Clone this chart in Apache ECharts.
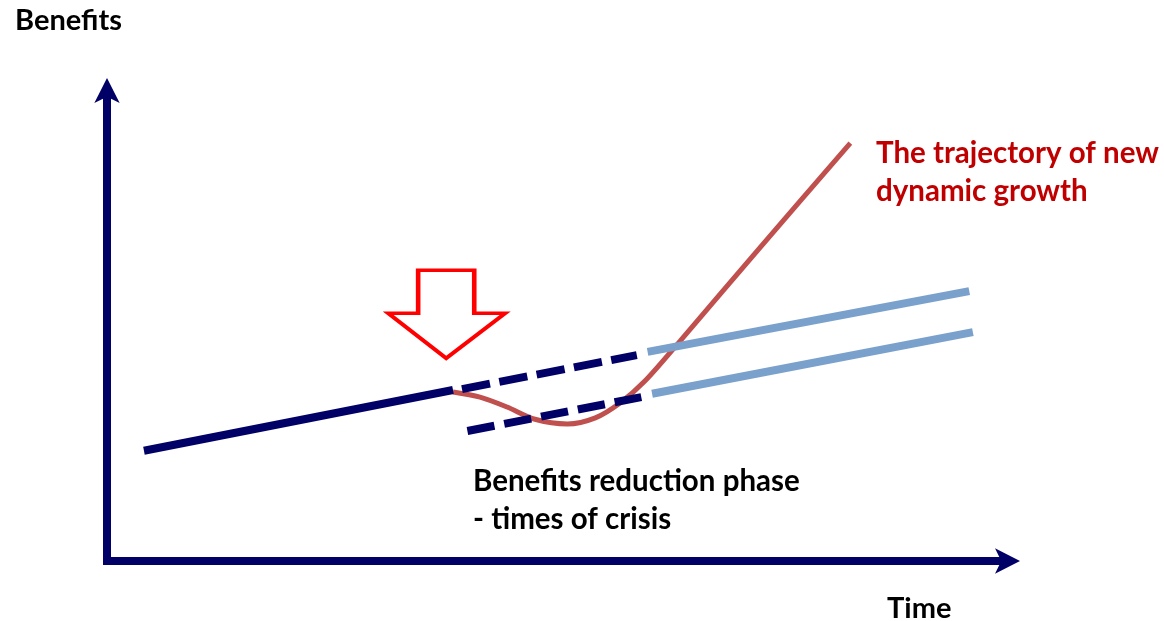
<!DOCTYPE html>
<html>
<head>
<meta charset="utf-8">
<script src="https://cdn.jsdelivr.net/npm/echarts@6/dist/echarts.min.js"></script>
<style>
html,body{margin:0;padding:0;background:#fff;}
#chart{width:1164px;height:621px;}
</style>
</head>
<body>
<div id="chart"></div>
<script>
// Conceptual values (time 0..100, benefits 0..100)
const trendBefore = [[4.1, 23.4], [38.4, 36.3]];
const trendUpperDashed = [[39.4, 36.5], [58.8, 43.7]];
const trendUpperNew = [[60.0, 44.4], [95.7, 57.3]];
const trendLowerDashed = [[40.0, 27.6], [59.3, 34.8]];
const trendLowerNew = [[60.5, 35.5], [96.1, 48.6]];
const newGrowth = [
  [38.4, 35.9], [41.4, 34.8], [44.4, 32.7], [47.5, 30.1], [51.1, 29.1],
  [54.2, 30.4], [56.9, 33.5], [59.7, 38.2], [63.6, 46.7], [72.5, 66.6],
  [82.5, 88.7]
];
const crisisMarker = [[37.7, 52.4]];

const axisTitleY = 'Benefits';
const axisTitleX = 'Time';
const growthLabel = 'The trajectory of new\ndynamic growth';
const crisisLabel = 'Benefits reduction phase\n- times of crisis';

const NAVY = '#000066';
const BLUE = '#7AA0CC';
const RED = '#C0504D';
const FONT = 'Lato';

const chart = echarts.init(document.getElementById('chart'), null, {renderer: 'canvas'});
const axisCommon = {
  type: 'value', min: 0, max: 100,
  axisLine: {show: true, symbol: ['none', 'arrow'], symbolSize: [19, 25], symbolOffset: [0, 12],
    lineStyle: {color: NAVY, width: 8, cap: 'square'}},
  axisTick: {show: false}, axisLabel: {show: false}, splitLine: {show: false}
};
chart.setOption({
  animation: false,
  backgroundColor: '#fff',
  grid: {left: 107, right: 156, top: 90, bottom: 60, containLabel: false},
  xAxis: Object.assign({}, axisCommon),
  yAxis: Object.assign({}, axisCommon),
  series: [
    {type: 'line', data: newGrowth, smooth: 0.3, symbol: 'none',
      lineStyle: {color: RED, width: 5}, z: 2},
    {type: 'line', data: trendBefore, symbol: 'none',
      lineStyle: {color: NAVY, width: 8}, z: 3},
    {type: 'line', data: trendUpperDashed, symbol: 'none',
      lineStyle: {color: NAVY, width: 8, type: [28.5, 9.5]}, z: 3},
    {type: 'line', data: trendLowerDashed, symbol: 'none',
      lineStyle: {color: NAVY, width: 8, type: [27.5, 10]}, z: 3},
    {type: 'line', data: trendUpperNew, symbol: 'none',
      lineStyle: {color: BLUE, width: 8}, z: 3},
    {type: 'line', data: trendLowerNew, symbol: 'none',
      lineStyle: {color: BLUE, width: 8}, z: 3},
    {type: 'scatter', data: crisisMarker,
      symbol: 'path://M31,0L89,0L89,45L121,45L60,92L0,45L31,45Z',
      symbolSize: [117, 88],
      itemStyle: {color: '#ffffff', borderColor: '#FF0000', borderWidth: 4, opacity: 1},
      z: 4}
  ],
  graphic: [
    {type: 'text', left: 15, top: 6, style: {text: axisTitleY, fill: '#000',
      font: 'bold 29px ' + FONT}},
    {type: 'text', left: 887, top: 594, style: {text: axisTitleX, fill: '#000',
      font: 'bold 29px ' + FONT}},
    {type: 'text', left: 876, top: 134, style: {text: growthLabel, fill: '#C00000',
      font: 'bold 29.5px ' + FONT, lineHeight: 38}},
    {type: 'text', left: 473, top: 462, style: {text: crisisLabel, fill: '#000',
      font: 'bold 29.5px ' + FONT, lineHeight: 38}}
  ]
});
</script>
</body>
</html>
